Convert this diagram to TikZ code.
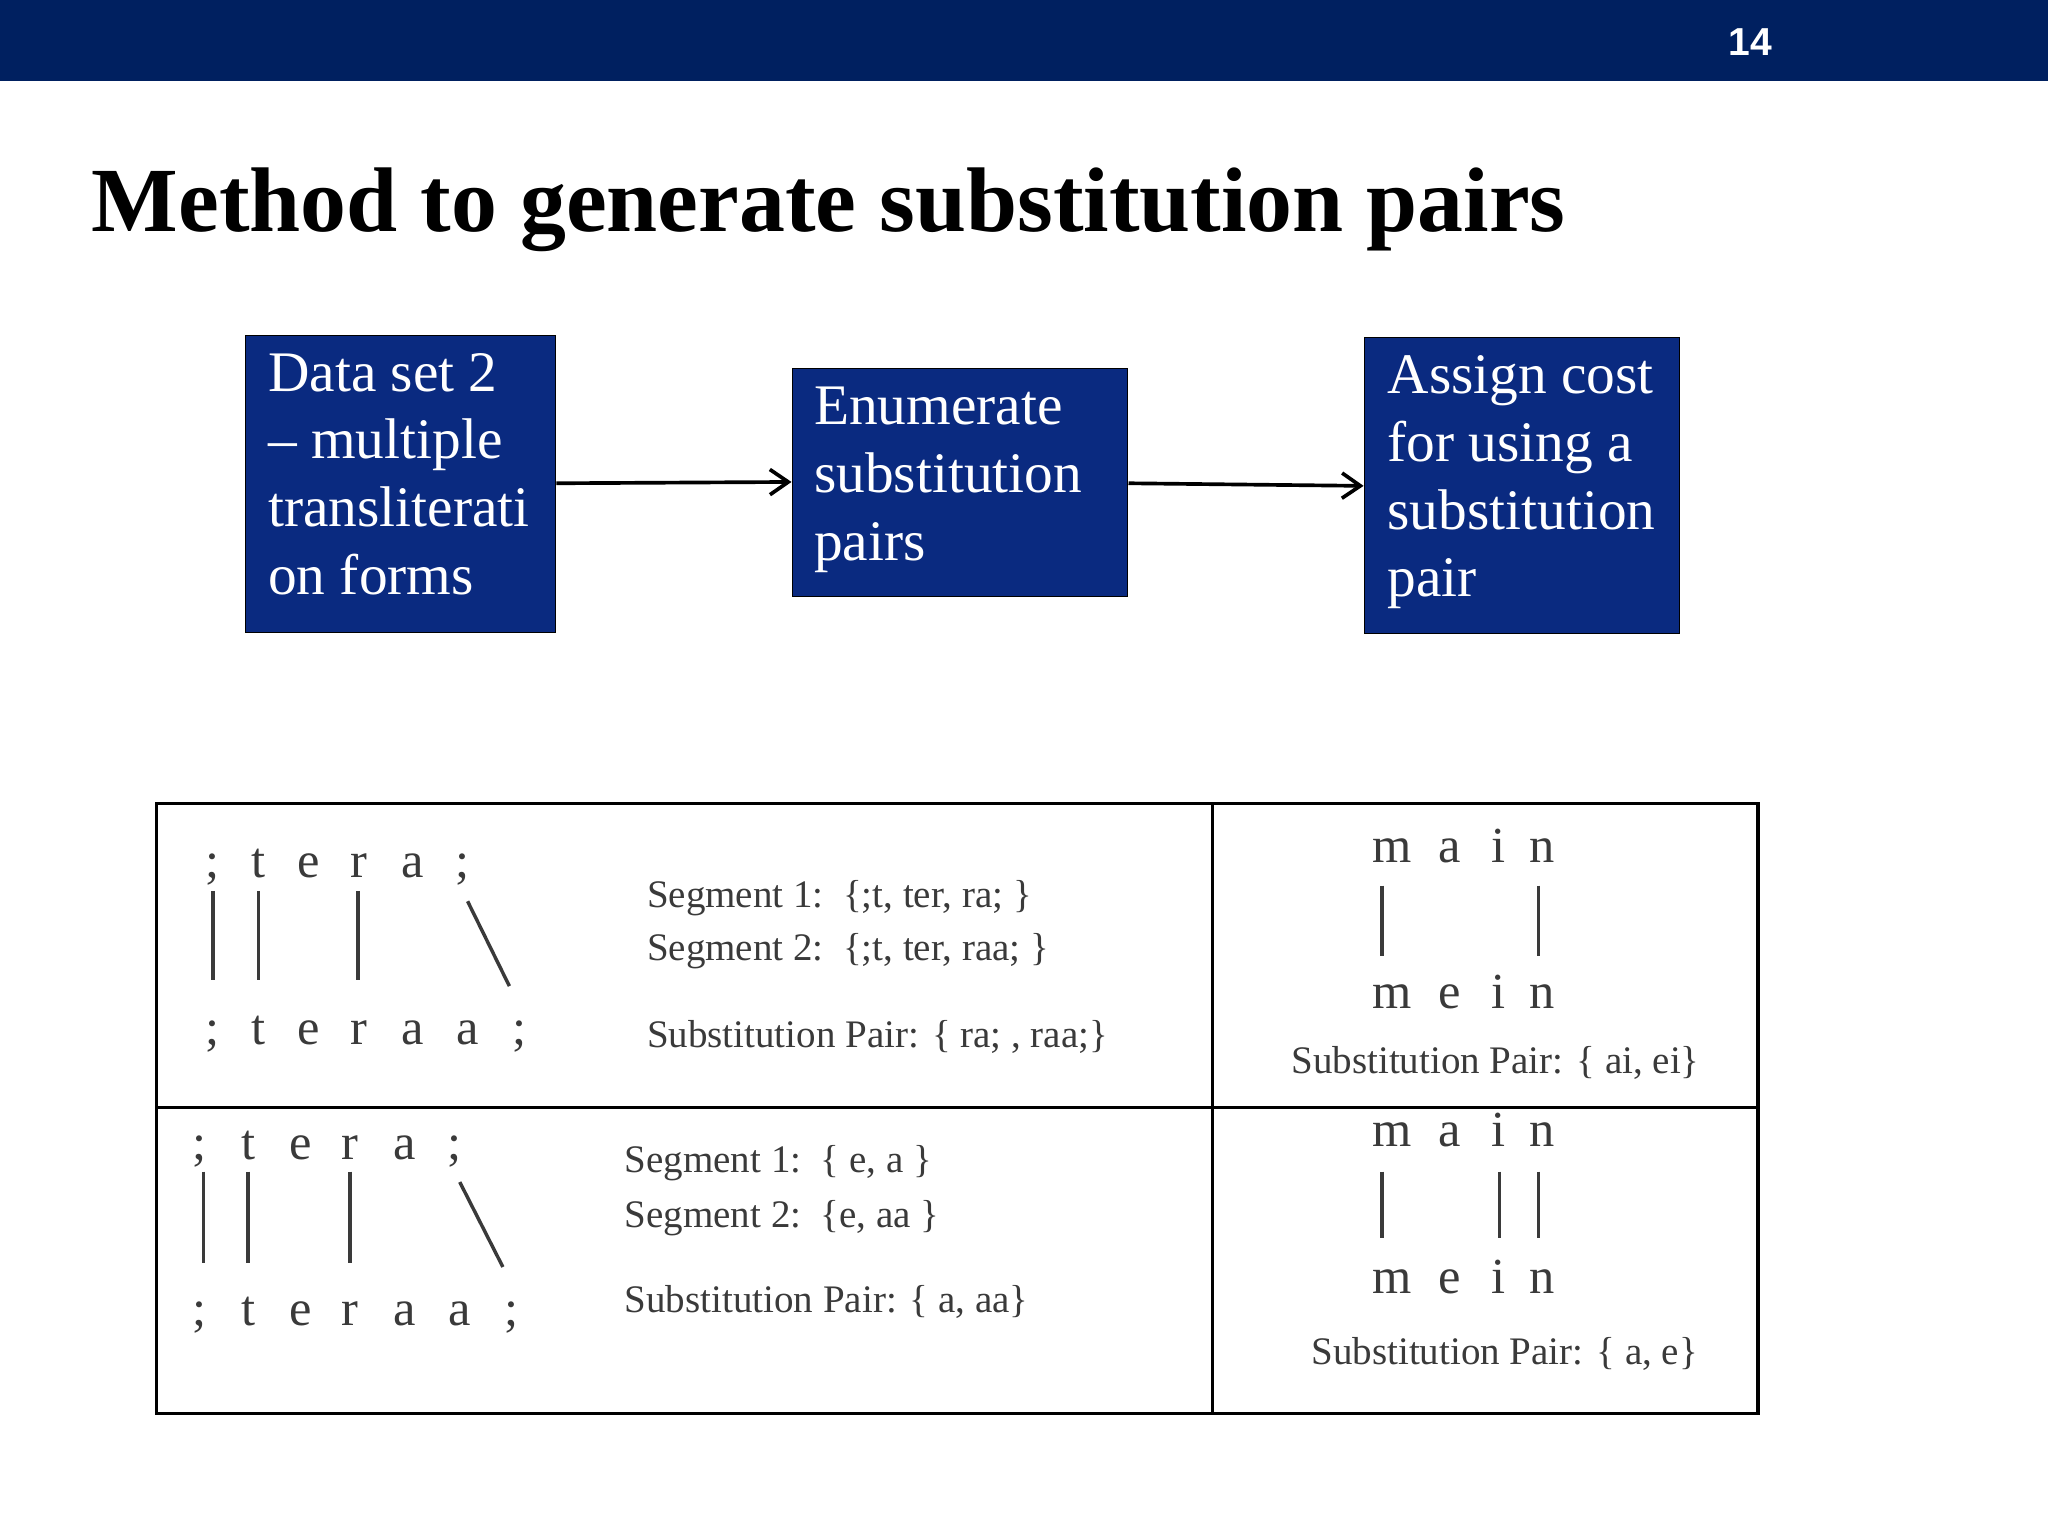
\documentclass[tikz,border=0pt]{standalone}
\usepackage{fontspec}
\setmainfont{Liberation Serif}
\newfontfamily\sansf{Liberation Sans}
\usetikzlibrary{arrows.meta}
\definecolor{navy}{HTML}{002060}
\definecolor{boxblue}{HTML}{0A2A80}
\definecolor{txtg}{HTML}{3A3A3A}
\begin{document}
\begin{tikzpicture}[x=0.02cm,y=-0.02cm,
  blk/.style={draw=black,fill=boxblue,text=white,align=left,anchor=north west,inner sep=0pt,font=\fontsize{25}{29.5}\selectfont},
  arr/.style={-{Straight Barb[length=8pt,width=11pt]},line width=1.6pt},
  lt/.style={text=txtg,font=\fontsize{22}{24}\selectfont,inner sep=0pt,anchor=base},
  st/.style={text=txtg,font=\fontsize{17}{23}\selectfont,inner sep=0pt,anchor=base west,align=left},
  ln/.style={line width=1.5pt,draw=txtg}]
\useasboundingbox (0,0) rectangle (1568,1176);
\fill[navy] (0,0) rectangle (1568,62);
\node[text=white,font=\sansf\bfseries\fontsize{17}{20}\selectfont] (pg) at (1340,32) {14};
\node[anchor=base west,inner sep=0pt,font=\bfseries\fontsize{40}{48}\selectfont] (title) at (70,177) {Method to generate substitution pairs};
% boxes
\draw[draw=black,fill=boxblue] (188,257) rectangle (425,484);
\coordinate (b1) at (188,257);
\node[blk,draw=none,fill=none] (t1) at (205,270) {Data set 2\\– multiple\\transliterati\\on forms};
\draw[draw=black,fill=boxblue] (607,282) rectangle (863,457);
\node[blk,draw=none,fill=none] (t2) at (623,296) {Enumerate\\substitution\\pairs};
\draw[draw=black,fill=boxblue] (1045,258) rectangle (1286,485);
\node[blk,draw=none,fill=none] (t3) at (1062,272) {Assign cost\\for using a\\substitution\\pair};
\coordinate (a1) at (426,370); \coordinate (a2) at (606,369);
\coordinate (a3) at (864,370); \coordinate (a4) at (1044,372);
\draw[arr] (a1) -- (a2);
\draw[arr] (a3) -- (a4);
% table
\draw[line width=1.5pt] (120,615) rectangle (1346,1082);
\draw[line width=1.3pt] (928,615) -- (928,1082);
\draw[line width=1.3pt] (120,848) -- (1346,848);
% cell 1
\foreach \x/\c in {163/;,198/t,236/e,275/r,316/a,354/;} \node[lt] at (\x,672) {\c};
\foreach \x/\c in {163/;,198/t,236/e,275/r,316/a,358/a,398/;} \node[lt] at (\x,800) {\c};
\draw[ln] (163,682) -- (163,750); \draw[ln] (198,682) -- (198,750); \draw[ln] (274,682) -- (274,750);
\draw[ln] (358,690) -- (390,755);
\node[st] (s1) at (495,695) {Segment 1:\enspace\{;t, ter, ra; \}};
\node[st] (s2) at (495,735) {Segment 2:\enspace\{;t, ter, raa; \}};
\node[st] (s3) at (495,802) {Substitution Pair: \{ ra; , raa;\}};
% cell 2
\foreach \x/\c in {1066/m,1110/a,1147/i,1181/n} \node[lt] at (\x,660) {\c};
\foreach \x/\c in {1066/m,1110/e,1147/i,1181/n} \node[lt] at (\x,772) {\c};
\draw[ln] (1058,678) -- (1058,732); \draw[ln] (1178,678) -- (1178,732);
\node[st,anchor=base] (s4) at (1145,822) {Substitution Pair: \{ ai, ei\}};
% cell 3
\foreach \x/\c in {153/;,190/t,230/e,268/r,310/a,348/;} \node[lt] at (\x,888) {\c};
\foreach \x/\c in {153/;,190/t,230/e,268/r,310/a,352/a,392/;} \node[lt] at (\x,1015) {\c};
\draw[ln] (156,897) -- (156,967); \draw[ln] (190,897) -- (190,967); \draw[ln] (268,897) -- (268,967);
\draw[ln] (352,905) -- (385,970);
\node[st] (s5) at (478,898) {Segment 1:\enspace\{ e, a \}};
\node[st] (s6) at (478,940) {Segment 2:\enspace\{e, aa \}};
\node[st] (s7) at (478,1005) {Substitution Pair: \{ a, aa\}};
% cell 4
\foreach \x/\c in {1066/m,1110/a,1147/i,1181/n} \node[lt] at (\x,878) {\c};
\foreach \x/\c in {1066/m,1110/e,1147/i,1181/n} \node[lt] at (\x,990) {\c};
\draw[ln] (1058,897) -- (1058,948); \draw[ln] (1148,897) -- (1148,948); \draw[ln] (1178,897) -- (1178,948);
\node[st,anchor=base] (s8) at (1152,1045) {Substitution Pair: \{ a, e\}};
\end{tikzpicture}
\end{document}
